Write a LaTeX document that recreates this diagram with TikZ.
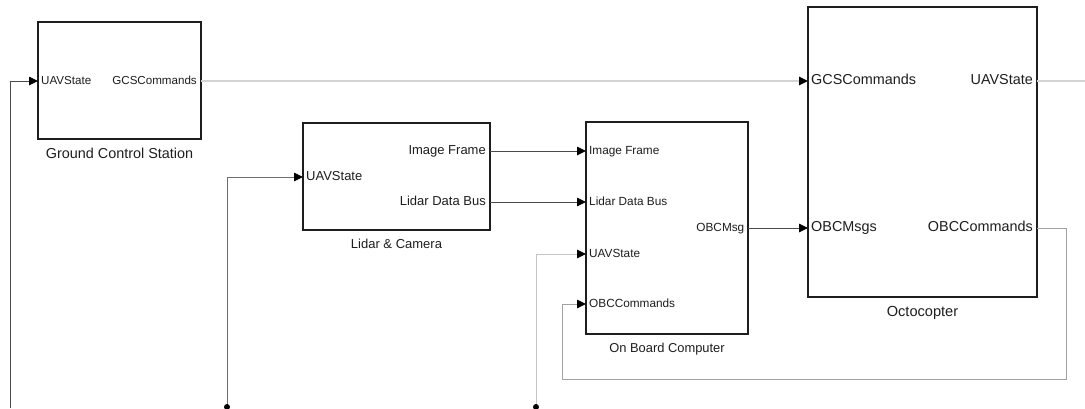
\documentclass[tikz,border=0pt]{standalone}
\usepackage{fontspec}
\setmainfont{Liberation Sans}
\usetikzlibrary{arrows.meta,positioning}
\definecolor{ink}{HTML}{1E1E1E}
\definecolor{wire}{HTML}{4A4A4A}
\definecolor{wiretwo}{HTML}{A2A2A2}
\definecolor{wirethree}{HTML}{D4D4D4}
\newcommand{\fs}[1]{\fontsize{#1}{#1}\selectfont}
\tikzset{
  every node/.style={text=ink},
  % subsystem blocks: size is given per block
  block/.style={draw=ink, line width=1.4pt, inner sep=0pt, fill=white},
  port/.style={inner sep=0pt, text height=0.72em, text depth=0pt},
  caption/.style={inner sep=0pt, below=8pt of #1},
  sig/.style={-{Triangle[length=9pt,width=8.5pt,color=black]}, line width=0.9pt, draw=#1},
  sig/.default=wire,
  wireonly/.style={line width=0.9pt, draw=#1},
  junction/.style={fill=black},
}

\begin{document}
\begin{tikzpicture}[x=1pt,y=-1pt]
  \useasboundingbox (0,0) rectangle (1085,408);

  % blocks
  \node[block, minimum width=163pt, minimum height=117pt] (gcs) at (119.5,80.5) {};
  \node[block, minimum width=187pt, minimum height=107pt] (lc)  at (396.5,176.5) {};
  \node[block, minimum width=162pt, minimum height=212pt] (obc) at (667,228) {};
  \node[block, minimum width=229pt, minimum height=290pt] (oc)  at (922.5,152) {};

  \node[caption=gcs, font=\fs{14.4}] (gcs-name) {Ground Control Station};
  \node[caption=lc,  font=\fs{13}]   (lc-name)  {Lidar \& Camera};
  \node[caption=obc, font=\fs{12.9}] (obc-name) {On Board Computer};
  \node[caption=oc,  font=\fs{14.6}] (oc-name)  {Octocopter};

  % port points on the block edges
  \coordinate (gcs-in)  at (38,81);
  \coordinate (gcs-out) at (201,81);
  \coordinate (lc-in)   at (303,177);
  \coordinate (lc-img)  at (490,151);
  \coordinate (lc-lid)  at (490,202);
  \coordinate (obc-img) at (586,151);
  \coordinate (obc-lid) at (586,202);
  \coordinate (obc-uav) at (586,254);
  \coordinate (obc-cmd) at (586,304);
  \coordinate (obc-out) at (748,228);
  \coordinate (oc-gcs)  at (808,81);
  \coordinate (oc-obc)  at (808,228);
  \coordinate (oc-uav)  at (1037,81);
  \coordinate (oc-cmd)  at (1037,228);

  % port labels
  \node[port, font=\fs{11.6}, right=3pt of gcs-in]  (p1)  {UAVState};
  \node[port, font=\fs{11.6}, left=4pt of gcs-out]  (p2)  {GCSCommands};
  \node[port, font=\fs{13},   right=3pt of lc-in]   (p3)  {UAVState};
  \node[port, font=\fs{13},   left=4pt of lc-img]   (p4)  {Image Frame};
  \node[port, font=\fs{13},   left=4pt of lc-lid]   (p5)  {Lidar Data Bus};
  \node[port, font=\fs{11.8}, right=3pt of obc-img] (p6)  {Image Frame};
  \node[port, font=\fs{11.8}, right=3pt of obc-lid] (p7)  {Lidar Data Bus};
  \node[port, font=\fs{11.8}, right=3pt of obc-uav] (p8)  {UAVState};
  \node[port, font=\fs{11.8}, right=3pt of obc-cmd] (p9)  {OBCCommands};
  \node[port, font=\fs{11.8}, left=3.5pt of obc-out] (p10) {OBCMsg};
  \node[port, font=\fs{14.4}, right=3pt of oc-gcs]  (p11) {GCSCommands};
  \node[port, font=\fs{14.4}, right=3pt of oc-obc]  (p12) {OBCMsgs};
  \node[port, font=\fs{14.4}, left=4pt of oc-uav]   (p13) {UAVState};
  \node[port, font=\fs{14.4}, left=4pt of oc-cmd]   (p14) {OBCCommands};

  % state bus coming in from below
  \coordinate (bus-a) at (10,408);
  \coordinate (bus-b) at (227,407);
  \coordinate (bus-c) at (536,407);
  \coordinate (uav-exit) at (1085,81);
  \coordinate (fb-r) at (1066,379);
  \coordinate (fb-l) at (562,379);

  \draw[sig=wirethree, line width=1.3pt] (gcs-out) -- (oc-gcs);
  \draw[sig] (lc-img) -- (obc-img);
  \draw[sig] (lc-lid) -- (obc-lid);
  \draw[sig] (obc-out) -- (oc-obc);
  \draw[wireonly=wirethree, line width=1.3pt] (oc-uav) -- (uav-exit);
  \draw[sig=wiretwo] (oc-cmd) -| (fb-r) -- (fb-l) |- (obc-cmd);
  \draw[sig=wire] (bus-a) |- (gcs-in);
  \draw[sig=wire!80] (bus-b) |- (lc-in);
  \draw[sig=wirethree!70!wiretwo] (bus-c) |- (obc-uav);
  \fill[junction] (bus-b) circle (3pt);
  \fill[junction] (bus-c) circle (3pt);
\end{tikzpicture}
\end{document}
